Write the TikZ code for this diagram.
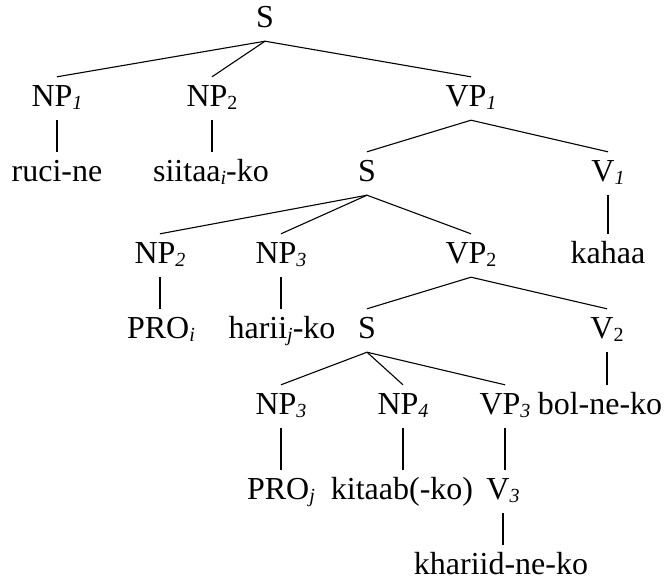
\documentclass[tikz,border=0pt]{standalone}
\usepackage{fontspec}
\setmainfont{Liberation Serif}
\newcommand{\si}[1]{\raisebox{-3pt}{\fontsize{20}{20}\selectfont\itshape #1}}
\newcommand{\su}[1]{\raisebox{-3pt}{\fontsize{20}{20}\selectfont #1}}

\begin{document}
\begin{tikzpicture}[x=1pt,y=-1pt,
    every node/.style={font=\fontsize{32}{36}\selectfont, inner sep=0pt, anchor=base,
                       text height=29pt, text depth=14pt},
    br/.style={line width=1.1pt},
    st/.style={line width=1.5pt},
    hv/.style={line width=2.2pt}]

    \useasboundingbox (0,0) rectangle (672,584);

    \node (s0)      at (265, 27)  {S};

    \node (np1)     at (57, 106)  {NP\si{1}};
    \node (np2)     at (212, 106) {NP\su{2}};
    \node (vp1)     at (471, 106) {VP\si{1}};

    \node (rucine)  at (57, 181)  {ruci-ne};
    \node (siitaa)  at (211, 181) {siitaa\si{i}-ko};
    \node (s1)      at (367, 181) {S};
    \node (v1)      at (608, 181) {V\si{1}};

    \node (np2b)    at (160, 263) {NP\si{2}};
    \node (np3)     at (281, 263) {NP\si{3}};
    \node (vp2)     at (471, 263) {VP\su{2}};
    \node (kahaa)   at (608, 263) {kahaa};

    \node (proi)    at (161, 338) {PRO\si{i}};
    \node (harii)   at (282, 338) {harii\si{j}-ko};
    \node (s2)      at (367, 338) {S};
    \node (v2)      at (607, 338) {V\su{2}};

    \node (np3b)    at (281, 414) {NP\si{3}};
    \node (np4)     at (403, 414) {NP\si{4}};
    \node (vp3)     at (505, 414) {VP\si{3}};
    \node (bol)     at (600, 414) {bol-ne-ko};

    \node (proj)    at (281, 499) {PRO\si{j}};
    \node (kitaab)  at (402, 499) {kitaab(-ko)};
    \node (v3)      at (503, 499) {V\si{3}};

    \node (khariid) at (501, 574) {khariid-ne-ko};

    % branches
    \draw[br] (np1.north) -- (s0.south) -- (vp1.north);
    \draw[br] (s0.south) -- (np2.north);
    \draw[br] (s1.north) -- (vp1.south) -- (v1.north);
    \draw[br] (np2b.north) -- (s1.south) -- (vp2.north);
    \draw[br] (s1.south) -- (np3.north);
    \draw[br] (s2.north) -- (vp2.south) -- (v2.north);
    \draw[br] (np3b.north) -- (s2.south) -- (vp3.north);
    \draw[br] (s2.south) -- (np4.north);

    % unary lines
    \draw[hv] (np1.south) -- (np1.south |- rucine.north);
    \draw[br] (np2.south) -- (np2.south |- siitaa.north);
    \draw[st] (v1.south) -- (v1.south |- kahaa.north);
    \draw[hv] (np2b.south) -- (np2b.south |- proi.north);
    \draw[br] (np3.south) -- (np3.south |- harii.north);
    \draw[st] (v2.south) -- (v2.south |- bol.north);
    \draw[br] (np3b.south) -- (np3b.south |- proj.north);
    \draw[hv] (np4.south) -- (np4.south |- kitaab.north);
    \draw[br] (vp3.south) -- (vp3.south |- v3.north);
    \draw[br] (v3.south) -- (v3.south |- khariid.north);
\end{tikzpicture}
\end{document}
